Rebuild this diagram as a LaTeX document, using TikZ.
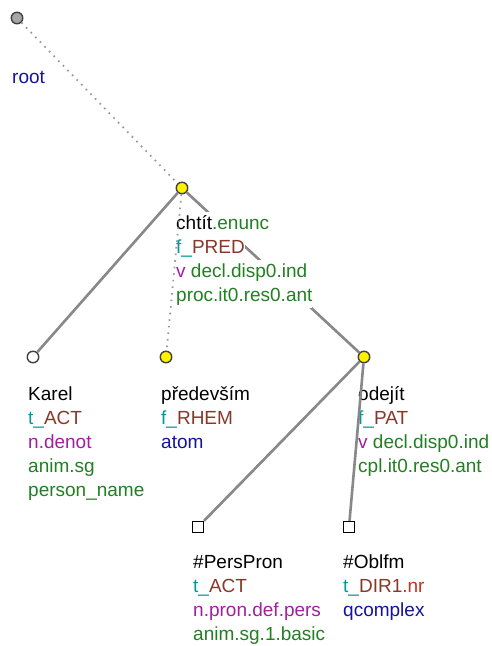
\documentclass[tikz,border=0pt]{standalone}
\usepackage{fontspec}
\setmainfont{Liberation Sans}
\usepackage{tikz}
\usetikzlibrary{positioning}

\definecolor{tgreen}{RGB}{34,128,34}
\definecolor{tteal}{RGB}{0,153,153}
\definecolor{tbrown}{RGB}{136,56,40}
\definecolor{tpurple}{RGB}{160,32,160}
\definecolor{tblue}{RGB}{20,20,153}
\definecolor{tred}{RGB}{200,50,30}
\definecolor{edgegray}{RGB}{136,136,136}

\tikzset{
  tnode/.style={circle,draw=black!75,line width=1.4pt,minimum size=11.5pt,inner sep=0pt},
  rootnode/.style={tnode,fill=black!35},
  yellownode/.style={tnode,fill=yellow},
  whitenode/.style={tnode,fill=white},
  boxnode/.style={rectangle,draw=black,line width=1.3pt,fill=white,minimum size=11pt,inner sep=0pt},
  lbl/.style={anchor=base west,inner sep=0pt,fill=white,text height=17pt,text depth=7pt,
    font=\fontsize{19}{24}\selectfont},
  solidedge/.style={draw=edgegray,line width=2.6pt},
  dotedge/.style={draw=black!40,line width=1.8pt,dash pattern=on 1.6pt off 5pt}
}

\begin{document}
\begin{tikzpicture}[x=1pt,y=-1pt]
\useasboundingbox (0,0) rectangle (491,646);

% --- Nodi
\node[rootnode] (root) at (17,18) {};
\node[yellownode] (chtit) at (182,188) {};
\node[whitenode] (karel) at (33,357) {};
\node[yellownode] (predevsim) at (166,357) {};
\node[yellownode] (odejit) at (364,357) {};
\node[boxnode] (perspron) at (198,527) {};
\node[boxnode] (oblfm) at (349,527) {};

% --- Archi (sotto le etichette)
\draw[dotedge] (root) -- (chtit);
\draw[solidedge] (chtit) -- (karel);
\draw[solidedge] (chtit) -- (odejit);

% --- Etichette
\node[lbl,text=tblue] (rootA) at (12,83) {root};

\node[lbl] (chtitA) at (176,229) {chtít\textcolor{tgreen}{.enunc}};
\node[lbl] (chtitB) at (176,253) {\textcolor{tteal}{f\_}\textcolor{tbrown}{PRED}};
\node[lbl] (chtitC) at (176,277) {\textcolor{tpurple}{v} \textcolor{tgreen}{decl.disp0.ind}};
\node[lbl,text=tgreen] (chtitD) at (176,301) {proc.it0.res0.ant};

\node[lbl] (karelA) at (28,400) {Karel};
\node[lbl] (karelB) at (28,424) {\textcolor{tteal}{t\_}\textcolor{tbrown}{ACT}};
\node[lbl,text=tpurple] (karelC) at (28,448) {n.denot};
\node[lbl,text=tgreen] (karelD) at (28,472) {anim.sg};
\node[lbl,text=tgreen] (karelE) at (28,496) {person\_name};

\node[lbl] (predevsimA) at (161,400) {především};
\node[lbl] (predevsimB) at (161,424) {\textcolor{tteal}{f\_}\textcolor{tbrown}{RHEM}};
\node[lbl,text=tblue] (predevsimC) at (161,448) {atom};

\node[lbl] (odejitA) at (358,400) {odejít};
\node[lbl] (odejitB) at (358,424) {\textcolor{tteal}{f\_}\textcolor{tbrown}{PAT}};
\node[lbl] (odejitC) at (358,448) {\textcolor{tpurple}{v} \textcolor{tgreen}{decl.disp0.ind}};
\node[lbl,text=tgreen] (odejitD) at (358,472) {cpl.it0.res0.ant};

\node[lbl] (perspronA) at (193,568) {\#PersPron};
\node[lbl] (perspronB) at (193,592) {\textcolor{tteal}{t\_}\textcolor{tbrown}{ACT}};
\node[lbl,text=tpurple] (perspronC) at (193,616) {n.pron.def.pers};
\node[lbl,text=tgreen] (perspronD) at (193,640) {anim.sg.1.basic};

\node[lbl] (oblfmA) at (343,568) {\#Oblfm};
\node[lbl] (oblfmB) at (343,592) {\textcolor{tteal}{t\_}\textcolor{tbrown}{DIR1}\textcolor{tred}{.nr}};
\node[lbl,text=tblue] (oblfmC) at (343,616) {qcomplex};

% --- Archi (sopra le etichette)
\draw[dotedge] (chtit) -- (predevsim);
\draw[solidedge] (odejit) -- (perspron);
\draw[solidedge] (odejit) -- (oblfm);

\end{tikzpicture}
\end{document}
